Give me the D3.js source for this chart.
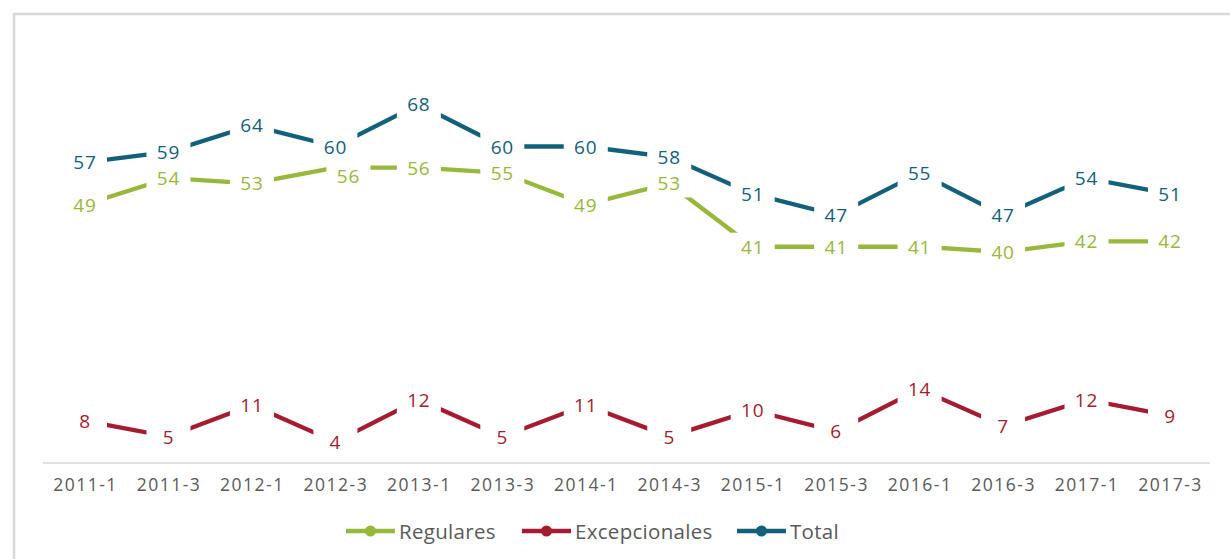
<!DOCTYPE html>
<html><head><meta charset="utf-8">
<script src="https://cdn.jsdelivr.net/npm/d3@7/dist/d3.min.js"></script>
<style>body{margin:0;background:#fff;}svg{display:block;font-family:'Open Sans',sans-serif;}</style>
</head><body>
<svg id="c" width="1230" height="559"></svg>
<script>
const categories = ["2011-1","2011-3","2012-1","2012-3","2013-1","2013-3","2014-1","2014-3","2015-1","2015-3","2016-1","2016-3","2017-1","2017-3"];
const regulares = [49,54,53,56,56,55,49,53,41,41,41,40,42,42];
const excepcionales = [8,5,11,4,12,5,11,5,10,6,14,7,12,9];
const total = [57,59,64,60,68,60,60,58,51,47,55,47,54,51];
const seriesNames = ["Regulares","Excepcionales","Total"];
const seriesColors = ["#97b83a","#a51c30","#13607a"];
const seriesValues = [regulares, excepcionales, total];

const svg = d3.select("#c");
// frame
svg.append("path").attr("d","M14,559 L14,14 L1230,14").attr("fill","none").attr("stroke","#d9d9d9").attr("stroke-width",2.5);

const x = d3.scalePoint().domain(categories).range([85,1170]);
const y = d3.scaleLinear().domain([0,80]).range([463,41]);

// axis line
svg.append("line").attr("x1",43).attr("x2",1210).attr("y1",463).attr("y2",463).attr("stroke","#d9d9d9").attr("stroke-width",1.5);
const xa = svg.append("g").attr("transform","translate(0,463)").call(d3.axisBottom(x).tickSize(0).tickPadding(16));
xa.select(".domain").remove();
xa.selectAll("text").attr("font-size",17.5).attr("fill","#595959").attr("font-family","'Open Sans',sans-serif").attr("letter-spacing",1.5);

const line = d3.line().x((d,i)=>x(categories[i])).y(d=>y(d));
seriesValues.forEach((vals,si)=>{
  svg.append("path").datum(vals).attr("d",line).attr("fill","none")
    .attr("stroke",seriesColors[si]).attr("stroke-width",4.3).attr("stroke-linejoin","miter");
});
// labels with white clearing boxes
seriesValues.forEach((vals,si)=>{
  const g = svg.append("g");
  vals.forEach((v,i)=>{
    let cx = x(categories[i]), cy = y(v);
    // the reference nudges this one label to avoid the Total label
    if (si === 0 && i === 3) { cx += 13; cy += 8; }
    const bg = g.append("rect").attr("fill","#fff");
    const t = g.append("text").attr("x",cx).attr("y",cy).attr("text-anchor","middle")
      .attr("dominant-baseline","central").attr("font-size",19).attr("letter-spacing",0.8).attr("fill",seriesColors[si]).text(v);
    const b = t.node().getBBox();
    bg.attr("x",cx-22).attr("y",b.y-1).attr("width",44).attr("height",b.height+2);
  });
});

// legend
const legX = [346,522,737];
seriesNames.forEach((n,i)=>{
  const g = svg.append("g").attr("transform",`translate(${legX[i]},531)`);
  g.append("line").attr("x1",0).attr("x2",49).attr("y1",0).attr("y2",0).attr("stroke",seriesColors[i]).attr("stroke-width",4.5);
  g.append("circle").attr("cx",24.5).attr("cy",0).attr("r",5.5).attr("fill",seriesColors[i]);
  g.append("text").attr("x",53).attr("y",0).attr("dominant-baseline","central").attr("font-size",20.5).attr("letter-spacing",0.3).attr("fill","#595959").text(n);
});
</script>
</body></html>
